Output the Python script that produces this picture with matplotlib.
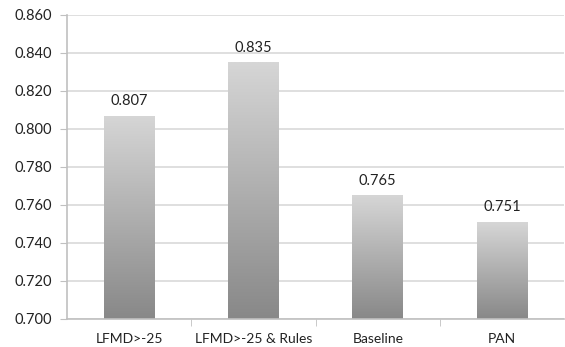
import numpy as np
import matplotlib
matplotlib.use("Agg")
import matplotlib.pyplot as plt
from matplotlib.colors import LinearSegmentedColormap

categories = ["LFMD>-25", "LFMD>-25 & Rules", "Baseline", "PAN"]
values = [0.807, 0.835, 0.765, 0.751]
labels = ["0.807", "0.835", "0.765", "0.751"]
yticks = [0.700, 0.720, 0.740, 0.760, 0.780, 0.800, 0.820, 0.840, 0.860]

plt.rcParams["font.family"] = ["Lato", "DejaVu Sans"]

fig = plt.figure(figsize=(5.65, 3.47), dpi=100)
ax = fig.add_axes([0.1186, 0.0807, 0.880, 0.8761])

x = np.arange(len(categories))
bars = ax.bar(x, [v - 0.7 for v in values], bottom=0.7, width=0.41,
              color="none", edgecolor="none", zorder=2)

# vertical grey gradient inside each bar, darker at the bottom
grad_cmap = LinearSegmentedColormap.from_list("g", ["#888888", "#d6d6d6"])
grad = np.linspace(0, 1, 256).reshape(-1, 1)
for b in bars:
    x0, y0 = b.get_x(), b.get_y()
    w, h = b.get_width(), b.get_height()
    im = ax.imshow(grad, cmap=grad_cmap, aspect="auto", origin="lower",
                   extent=[x0, x0 + w, y0, y0 + h], zorder=2)
    im.set_clip_path(b)

for xi, v, lab in zip(x, values, labels):
    ax.text(xi, v + 0.004, lab, ha="center", va="bottom", fontsize=10.5, color="#222222")

ax.set_xlim(-0.5, len(categories) - 0.5)
ax.set_ylim(0.700, 0.860)
ax.set_yticks(yticks)
ax.set_yticklabels([f"{t:.3f}" for t in yticks], fontsize=10.5, color="#222222")
ax.set_xticks(x)
ax.set_xticklabels(categories, fontsize=10, color="#222222")
ax.set_xticks(np.arange(0.5, len(categories) - 0.5), minor=True)
ax.tick_params(axis="x", which="major", length=0, pad=10)
ax.tick_params(axis="x", which="minor", length=5, color="#c0c0c0", direction="out")
ax.tick_params(axis="y", length=5, color="#c0c0c0", pad=6)

ax.grid(axis="y", color="#d9d9d9", linewidth=1.2, zorder=0)
ax.set_axisbelow(True)
for s in ["top", "right"]:
    ax.spines[s].set_visible(False)
ax.spines["left"].set_color("#c0c0c0")
ax.spines["bottom"].set_color("#c0c0c0")
ax.spines["left"].set_linewidth(1.2)
ax.spines["bottom"].set_linewidth(1.2)

fig.savefig("out.png", dpi=100)
